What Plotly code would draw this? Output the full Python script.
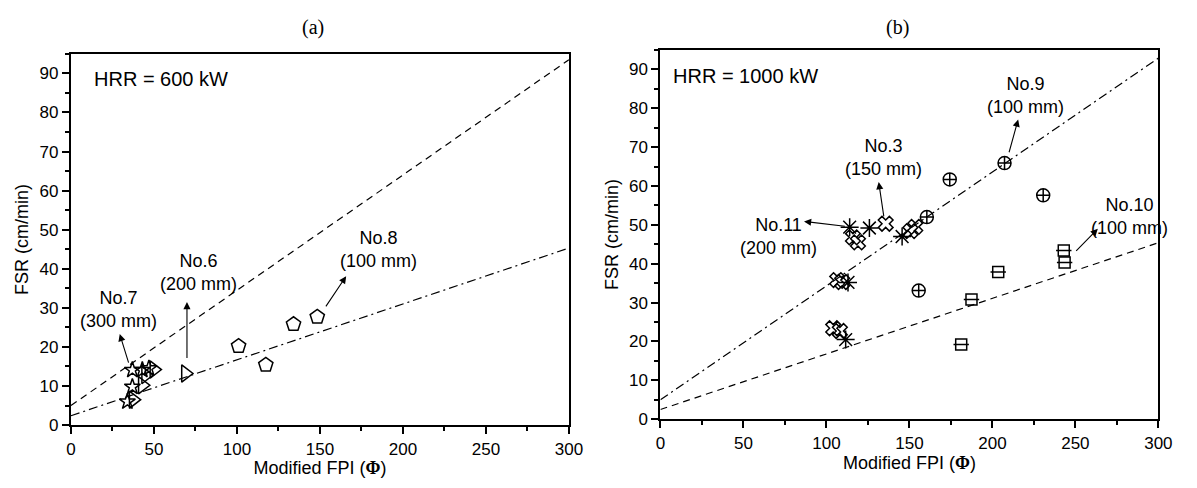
import plotly.graph_objects as go

# ---------------- data ----------------
fpi_ends = [0, 300]

# (a) HRR = 600 kW
a_no7_x = [37, 43, 47, 37, 34]
a_no7_y = [14.1, 14.1, 14.5, 9.8, 6.0]
a_no6_x = [50, 45, 43, 37.5, 69]
a_no6_y = [14.2, 12.8, 10.2, 6.5, 13.2]
a_no8_x = [101, 117.4, 134.1, 148.4]
a_no8_y = [20.2, 15.4, 25.8, 27.7]
a_dash_fit = [5.0, 0.295]      # intercept, slope
a_dashdot_fit = [2.4, 0.143]

# (b) HRR = 1000 kW
b_no3_x = [135.7, 150.6, 153.5, 116, 119, 106.5, 109.5, 104.1, 108.1]
b_no3_y = [50.3, 48.4, 49.5, 46.8, 45.5, 35.8, 35.3, 23.4, 22.7]
b_no11_x = [114, 125.9, 145.6, 113, 111.6]
b_no11_y = [49.4, 49.2, 47.0, 35.2, 20.5]
b_no9_x = [207.3, 174.3, 230.6, 160.5, 155.6]
b_no9_y = [65.9, 61.7, 57.6, 52.0, 33.1]
b_no10_x = [181.2, 187.4, 203.5, 243.0, 243.5]
b_no10_y = [19.2, 30.8, 37.9, 43.4, 40.3]
b_dash_fit = [2.5, 0.143]
b_dashdot_fit = [5.0, 0.293]

SANS = "Liberation Sans, Arial, sans-serif"
SERIF = "Liberation Serif, Times New Roman, serif"


def fit_line(fit):
    return [fit[0] + fit[1] * x for x in fpi_ends]


fig = go.Figure()


def add_points(x, y, symbol, size, xa, ya):
    fig.add_trace(go.Scatter(
        x=x, y=y, mode="markers", xaxis=xa, yaxis=ya, showlegend=False,
        marker=dict(symbol=symbol, size=size, color="black",
                    line=dict(color="black", width=1.5))))


def add_fit(fit, dash, xa, ya):
    fig.add_trace(go.Scatter(
        x=fpi_ends, y=fit_line(fit), mode="lines", xaxis=xa, yaxis=ya,
        showlegend=False, line=dict(color="black", width=1.2, dash=dash)))


DASH = "7px,5px"
DASHDOT = "9px,4px,2px,4px"

# panel (a)
add_fit(a_dash_fit, DASH, "x", "y")
add_fit(a_dashdot_fit, DASHDOT, "x", "y")
add_points(a_no8_x, a_no8_y, "pentagon-open", 15, "x", "y")
add_points(a_no6_x, a_no6_y, "triangle-right-open", 15, "x", "y")
add_points(a_no7_x, a_no7_y, "star-open", 12, "x", "y")

# panel (b)
add_fit(b_dash_fit, DASH, "x2", "y2")
add_fit(b_dashdot_fit, DASHDOT, "x2", "y2")
add_points(b_no10_x, b_no10_y, "square-open", 11, "x2", "y2")
add_points(b_no10_x, b_no10_y, "line-ew-open", 11, "x2", "y2")
add_points(b_no9_x, b_no9_y, "circle-cross-open", 13, "x2", "y2")
add_points(b_no3_x, b_no3_y, "x-open", 13, "x2", "y2")
add_points(b_no11_x, b_no11_y, "asterisk-open", 15, "x2", "y2")

x_title = ("Modified FPI (<span style=\"font-family:Liberation Serif;"
           "font-weight:bold\">Φ</span>)")

common_x = dict(range=[0, 300], dtick=50, tick0=0, ticks="outside", ticklen=7,
                tickwidth=1.5, tickcolor="black", showline=True, linewidth=2,
                linecolor="black", mirror=True, showgrid=False, zeroline=False,
                minor=dict(dtick=25, ticks="outside", ticklen=4, tickwidth=1.5,
                           tickcolor="black"),
                tickfont=dict(family=SANS, size=17, color="black"),
                title=dict(text=x_title, font=dict(family=SANS, size=18,
                                                   color="black"), standoff=4))
common_y = dict(range=[0, 95], dtick=10, tick0=0, ticks="outside", ticklen=7,
                tickwidth=1.5, tickcolor="black", showline=True, linewidth=2,
                linecolor="black", mirror=True, showgrid=False, zeroline=False,
                minor=dict(dtick=5, ticks="outside", ticklen=4, tickwidth=1.5,
                           tickcolor="black"),
                tickfont=dict(family=SANS, size=17, color="black"),
                title=dict(text="FSR (cm/min)", font=dict(family=SANS, size=18,
                                                          color="black"),
                           standoff=6))
# small inward ticks along the top frame
top_ticks = dict(range=[0, 300], dtick=25, tick0=0, side="top", ticks="inside",
                 ticklen=4, tickwidth=1.2, tickcolor="black",
                 showticklabels=False, showgrid=False, zeroline=False,
                 showline=False)

W, H = 1197, 488
fig.update_layout(
    width=W, height=H, margin=dict(l=0, r=0, t=0, b=0),
    paper_bgcolor="white", plot_bgcolor="white",
    xaxis=dict(domain=[67 / W, 573 / W], anchor="y", **common_x),
    yaxis=dict(domain=[(H - 434) / H, (H - 55) / H], anchor="x", **common_y),
    xaxis2=dict(domain=[666 / W, 1172 / W], anchor="y2", **common_x),
    yaxis2=dict(domain=[(H - 428) / H, (H - 51) / H], anchor="x2", **common_y),
    xaxis3=dict(overlaying="x", anchor="y", **top_ticks),
    xaxis4=dict(overlaying="x2", anchor="y2", **top_ticks),
)

annotations = []


def label(text, x, y, xref, yref, size=18, xanchor="center"):
    annotations.append(dict(text=text, x=x, y=y, xref=xref, yref=yref,
                            showarrow=False, xanchor=xanchor, yanchor="middle",
                            font=dict(family=SANS, size=size, color="black")))


def arrow(tail, head, xref, yref):
    annotations.append(dict(text="", x=head[0], y=head[1], ax=tail[0], ay=tail[1],
                            xref=xref, yref=yref, axref=xref, ayref=yref,
                            showarrow=True, arrowhead=2, arrowsize=1.3,
                            arrowwidth=1.1, arrowcolor="black"))


# panel titles
annotations.append(dict(text="(a)", x=300 / W, y=1 - 14 / H, xref="paper",
                        yref="paper", showarrow=False,
                        font=dict(family=SERIF, size=20, color="black")))
annotations.append(dict(text="(b)", x=921 / W, y=1 - 14 / H, xref="paper",
                        yref="paper", showarrow=False,
                        font=dict(family=SERIF, size=20, color="black")))

label("HRR = 600 kW", 12.5, 88.5, "x", "y", size=20, xanchor="left")
label("HRR = 1000 kW", 6.5, 88.2, "x2", "y2", size=20, xanchor="left")

label("No.7<br>(300 mm)", 28.7, 29.5, "x", "y")
arrow((35, 15.6), (29.4, 23.3), "x", "y")
label("No.6<br>(200 mm)", 77, 39, "x", "y")
arrow((69.9, 16.8), (69.9, 31.5), "x", "y")
label("No.8<br>(100 mm)", 185, 45, "x", "y")
arrow((153, 30.0), (165.8, 38.1), "x", "y")

label("No.11<br>(200 mm)", 71.4, 46.9, "x2", "y2")
arrow((112, 49.6), (86.5, 50.9), "x2", "y2")
label("No.3<br>(150 mm)", 134.5, 67.4, "x2", "y2")
arrow((134.7, 51.8), (131.5, 61.0), "x2", "y2")
label("No.9<br>(100 mm)", 220, 83.4, "x2", "y2")
arrow((209.8, 68.3), (215.5, 77.1), "x2", "y2")
label("No.10<br>(100 mm)", 282.5, 52.2, "x2", "y2")
arrow((249.6, 42.9), (263.5, 49.0), "x2", "y2")

fig.update_layout(annotations=annotations)

fig.write_html("out.html")
